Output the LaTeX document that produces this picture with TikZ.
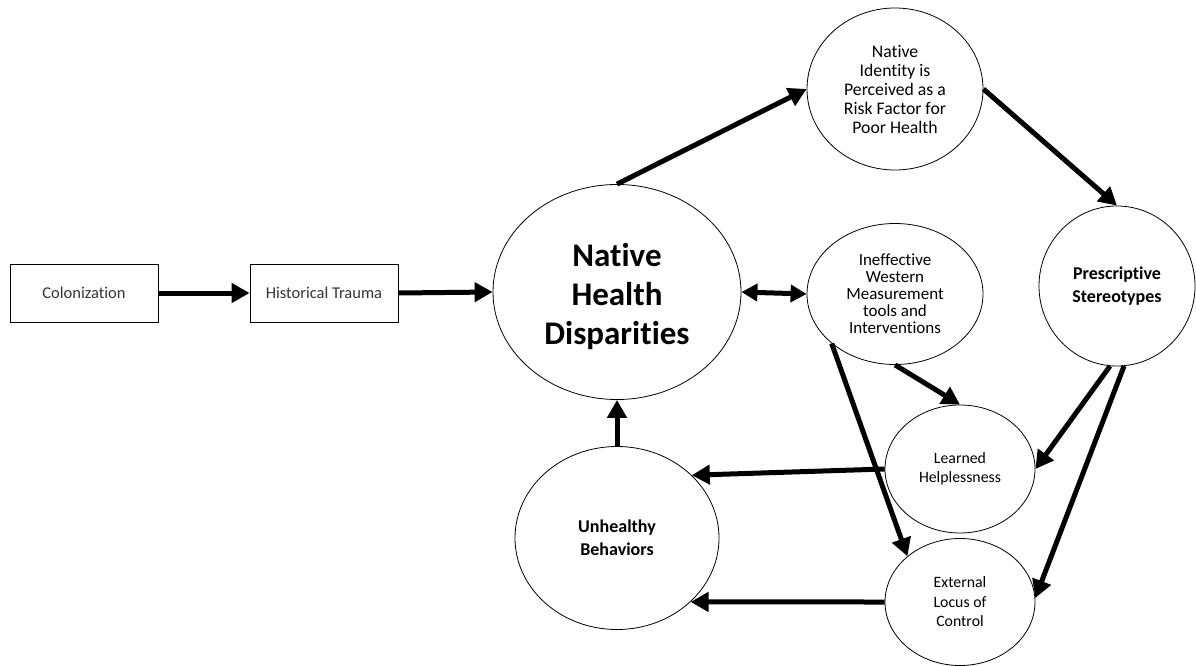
\documentclass[tikz,border=0pt]{standalone}
\usepackage{fontspec}
\setmainfont{Carlito}[Ligatures={NoCommon,NoRare,NoContextual}]
\usetikzlibrary{shapes.geometric,arrows.meta}
\tikzset{
  boxnode/.style={draw=black,line width=0.8pt,minimum width=148pt,minimum height=58pt,inner sep=0pt,text=black!80,font=\fontsize{16.5}{19}\selectfont},
  oval/.style={draw=black,line width=0.8pt,ellipse,inner sep=0pt,align=center},
  link/.style={line width=5pt,-{Triangle[length=18pt,width=19pt]}},
  dlink/.style={line width=5pt,{Triangle[length=16pt,width=17pt]}-{Triangle[length=16pt,width=17pt]}}
}
\begin{document}
\begin{tikzpicture}[x=1pt,y=-1pt]
\useasboundingbox (0,0) rectangle (1196,666);
\node[boxnode] (col) at (84,293) {Colonization};
\node[boxnode] (ht) at (324,293) {Historical Trauma};
\node[oval,minimum width=248pt,minimum height=215pt,font=\bfseries\fontsize{33}{39}\selectfont] (nhd) at (617,292) {\raisebox{-6pt}[\height][\depth]{\begin{tabular}{@{}c@{}}Native\\Health\\Disparities\end{tabular}}};
\node[oval,minimum width=176pt,minimum height=162pt,font=\fontsize{17.7}{19}\selectfont] (nid) at (895,89) {Native\\Identity is\\Perceived as a\\Risk Factor for\\Poor Health};
\node[oval,minimum width=176pt,minimum height=141pt,font=\fontsize{17}{17}\selectfont] (ineff) at (895,294) {Ineffective\\Western\\Measurement\\tools and\\Interventions};
\node[oval,minimum width=156pt,minimum height=160pt,font=\bfseries\fontsize{18}{23}\selectfont] (ps) at (1117,286) {Prescriptive\\Stereotypes};
\node[oval,minimum width=150pt,minimum height=128pt,font=\fontsize{15.8}{19}\selectfont] (lh) at (960,469) {Learned\\Helplessness};
\node[oval,minimum width=150pt,minimum height=127pt,font=\fontsize{15.8}{19.5}\selectfont] (elc) at (960,602) {External\\Locus of\\Control};
\node[oval,minimum width=204pt,minimum height=183pt,font=\bfseries\fontsize{18}{23}\selectfont] (ub) at (617,538) {Unhealthy\\Behaviors};
\draw[link] (col.east) -- (ht.west);
\draw[link] (ht.east) -- (nhd.west);
\draw[link] (nhd.north) -- (nid.west);
\draw[link] (nid.east) -- (ps.north);
\draw[dlink] (nhd.east) -- (ineff.west);
\draw[link] (ineff.south) -- (lh.north);
\draw[link] (ineff.218) -- (elc.139);
\draw[link] (ps.-95) -- (lh.east);
\draw[link] (ps.-85) -- (elc.3);
\draw[link] (lh.west) -- (ub.40);
\draw[link] (elc.west) -- (ub.-41);
\draw[link] (ub.north) -- (nhd.south);
\end{tikzpicture}
\end{document}
